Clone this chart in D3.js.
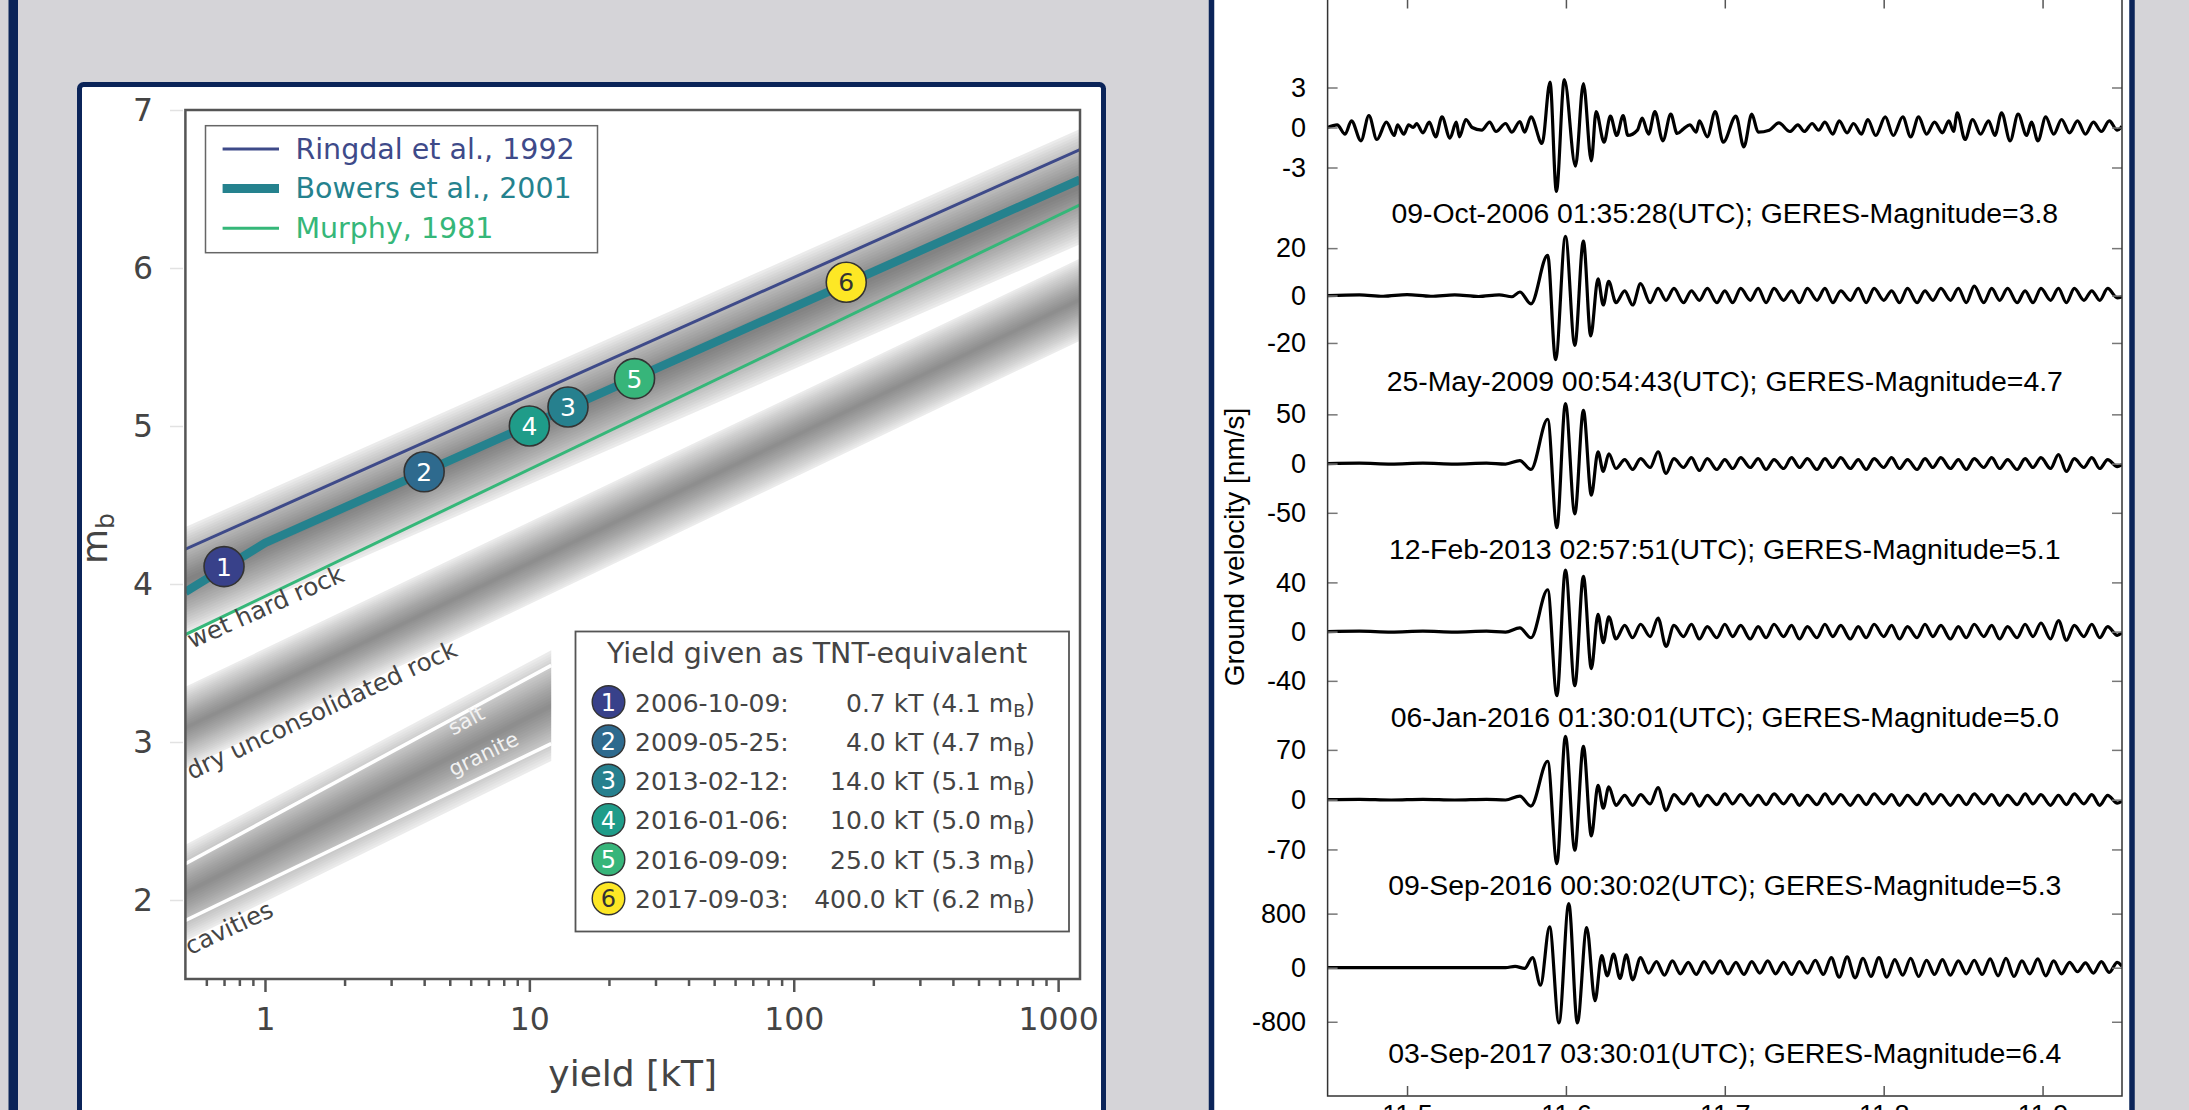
<!DOCTYPE html>
<html>
<head>
<meta charset="utf-8">
<script src="https://cdn.jsdelivr.net/npm/d3@7/dist/d3.min.js"></script>
<style>
body{margin:0;background:#d5d4d8;overflow:hidden}
svg{display:block}
</style>
</head>
<body>
<div id="container"></div>
<script>
var W = 2189, H = 1110;
var navy = "#0b2459";

// ---------- left chart: mb vs yield ----------
var yieldTicks = [1, 10, 100, 1000];
var yieldMinor = [0.6,0.7,0.8,0.9,2,3,4,5,6,7,8,9,20,30,40,50,60,70,80,90,200,300,400,500,600,700,800,900];
var mbTicks = [2, 3, 4, 5, 6, 7];

var ringdal = [[0.5, 4.22], [1210, 6.75]];
var bowers = [[0.5, 3.95], [1, 4.26], [1210, 6.56]];
var murphy = [[0.5, 3.68], [1210, 6.40]];

// [yield, upper mb, lower mb]
var bandWet = [[0.5, 4.36, 3.68], [1210, 6.88, 6.15]];
var bandDry = [[0.5, 3.35, 2.83], [1210, 6.06, 5.54]];
var bandCav = [[0.5, 2.35, 1.74], [12.1, 3.58, 2.88]];
var saltLine = [[0.5, 2.23], [12.1, 3.485]];
var graniteLine = [[0.5, 1.87], [12.1, 2.99]];

var eventDates = ["2006-10-09", "2009-05-25", "2013-02-12", "2016-01-06", "2016-09-09", "2017-09-03"];
var eventYield = [0.7, 4.0, 14.0, 10.0, 25.0, 400.0];
var eventMb = [4.1, 4.7, 5.1, 5.0, 5.3, 6.2];
var markerYield = [0.7, 4.0, 14.0, 10.0, 25.0, 158];
var markerMb = [4.11, 4.71, 5.12, 5.0, 5.3, 5.91];
var eventColors = ["#38418a", "#2e6a8e", "#26808e", "#1f9c89", "#37b57a", "#fde725"];

var modelNames = ["Ringdal et al., 1992", "Bowers et al., 2001", "Murphy, 1981"];
var modelColors = ["#3e4a89", "#25828e", "#35b779"];

// ---------- right chart: seismograms ----------
var timeTicks = [11.5, 11.6, 11.7, 11.8, 11.9];
var traceTicks = [3, 20, 50, 40, 70, 800];
var traceLabels = [
  "09-Oct-2006 01:35:28(UTC); GERES-Magnitude=3.8",
  "25-May-2009 00:54:43(UTC); GERES-Magnitude=4.7",
  "12-Feb-2013 02:57:51(UTC); GERES-Magnitude=5.1",
  "06-Jan-2016 01:30:01(UTC); GERES-Magnitude=5.0",
  "09-Sep-2016 00:30:02(UTC); GERES-Magnitude=5.3",
  "03-Sep-2017 03:30:01(UTC); GERES-Magnitude=6.4"
];

var trace2006 = [[11.450,0],[11.456,0.2],[11.461,-0.5],[11.465,0.5],[11.471,-1.0],[11.476,0.9],[11.481,-0.9],[11.487,0.4],[11.492,-0.6],[11.494,0.2],[11.498,-0.5],[11.501,0.2],[11.504,0],[11.506,0.3],[11.510,-0.4],[11.514,0.4],[11.518,-0.7],[11.522,0.8],[11.527,-0.8],[11.531,0.4],[11.533,-0.7],[11.537,0.6],[11.541,0],[11.547,-0.2],[11.552,0.4],[11.556,-0.3],[11.562,0.3],[11.566,-0.35],[11.571,0.45],[11.574,-0.35],[11.578,0.8],[11.585,-1.2],[11.590,3.4],[11.594,-4.8],[11.599,3.6],[11.606,-2.9],[11.611,3.3],[11.616,-2.5],[11.619,1.2],[11.624,-1.1],[11.628,0.85],[11.632,-0.6],[11.636,0.9],[11.639,-0.6],[11.645,-0.2],[11.648,0.7],[11.652,-0.5],[11.656,1.2],[11.661,-1.0],[11.666,1.0],[11.670,-0.45],[11.674,-0.1],[11.678,0.2],[11.682,-0.35],[11.684,0.5],[11.689,-0.7],[11.694,1.2],[11.699,-1.1],[11.707,0.85],[11.712,-1.45],[11.717,1.0],[11.721,-0.35],[11.728,-0.2],[11.734,0.35],[11.741,-0.3],[11.746,0.2],[11.750,-0.3],[11.755,0.3],[11.759,-0.2],[11.763,0.4],[11.768,-0.5],[11.772,0.5],[11.777,-0.4],[11.781,0.3],[11.786,-0.5],[11.790,0.6],[11.795,-0.6],[11.801,0.8],[11.806,-0.6],[11.812,0.8],[11.817,-0.7],[11.822,0.8],[11.827,-0.5],[11.832,0.4],[11.837,-0.4],[11.841,0.5],[11.844,-0.3],[11.8463,1.1],[11.8512,-0.9],[11.856,0.6],[11.861,-0.5],[11.866,0.5],[11.870,-0.6],[11.8742,1.1],[11.8796,-1.0],[11.8846,1.0],[11.890,-0.6],[11.893,0.4],[11.8971,-1.0],[11.902,0.8],[11.907,-0.5],[11.912,0.6],[11.917,-0.4],[11.922,0.5],[11.927,-0.5],[11.932,0.4],[11.937,-0.3],[11.942,0.5],[11.947,-0.2],[11.950,0.1]];

var trace2009 = [[11.450,0],[11.470,0.3],[11.485,-0.3],[11.500,0.4],[11.515,-0.3],[11.530,0.3],[11.545,-0.4],[11.558,0.3],[11.566,-0.5],[11.571,1.5],[11.578,-3.5],[11.5885,17],[11.5935,-27],[11.5997,25],[11.6056,-21],[11.611,23],[11.6156,-17],[11.6202,7],[11.6235,-4],[11.6269,6],[11.6315,-3],[11.637,2],[11.642,-4],[11.647,5],[11.653,-3],[11.658,3],[11.663,-2],[11.668,3],[11.674,-3],[11.679,2],[11.684,-2],[11.689,3],[11.695,-3],[11.700,2],[11.705,-3],[11.710,3],[11.716,-2],[11.721,3],[11.726,-3],[11.731,3],[11.737,-2],[11.742,2],[11.747,-3],[11.752,3],[11.758,-2],[11.763,3],[11.768,-3],[11.773,2],[11.779,-2],[11.784,3],[11.789,-3],[11.794,3],[11.800,-2],[11.805,2],[11.810,-3],[11.815,3],[11.821,-3],[11.826,2],[11.831,-2],[11.836,3],[11.842,-2],[11.847,3],[11.852,-3],[11.857,4],[11.863,-3],[11.868,3],[11.873,-2],[11.878,3],[11.884,-3],[11.889,2],[11.894,-3],[11.899,3],[11.905,-2],[11.910,3],[11.915,-3],[11.920,3],[11.926,-2],[11.931,2],[11.936,-2],[11.941,3],[11.947,-1],[11.950,-0.5]];

var trace2013 = [[11.450,0],[11.470,0.5],[11.490,-0.5],[11.510,0.5],[11.530,-0.5],[11.550,0.5],[11.562,-0.5],[11.571,3],[11.578,-6],[11.5885,45],[11.5943,-65],[11.5997,61],[11.6056,-51],[11.611,54],[11.616,-32],[11.6202,12],[11.6235,-8],[11.627,10],[11.6315,-5],[11.637,4],[11.642,-6],[11.647,5],[11.653,-4],[11.658,12],[11.663,-10],[11.668,5],[11.674,-4],[11.679,6],[11.684,-7],[11.689,5],[11.695,-6],[11.700,4],[11.705,-5],[11.710,6],[11.716,-4],[11.721,5],[11.726,-6],[11.731,4],[11.737,-5],[11.742,6],[11.747,-4],[11.752,5],[11.758,-6],[11.763,5],[11.768,-4],[11.773,6],[11.779,-5],[11.784,4],[11.789,-6],[11.794,5],[11.800,-4],[11.805,6],[11.810,-5],[11.815,4],[11.821,-6],[11.826,5],[11.831,-4],[11.836,6],[11.842,-5],[11.847,4],[11.852,-6],[11.857,5],[11.863,-4],[11.868,6],[11.873,-5],[11.878,4],[11.884,-6],[11.889,5],[11.894,-4],[11.899,6],[11.905,-5],[11.910,9],[11.915,-8],[11.920,5],[11.926,-4],[11.931,6],[11.936,-5],[11.941,4],[11.947,-3],[11.950,-1]];

var trace2016a = [[11.450,0],[11.470,0.4],[11.490,-0.4],[11.510,0.4],[11.530,-0.4],[11.550,0.4],[11.562,-0.4],[11.571,3],[11.578,-5],[11.5885,34],[11.5943,-52],[11.5997,50],[11.6056,-44],[11.611,45],[11.616,-30],[11.6202,14],[11.6235,-9],[11.627,12],[11.6315,-6],[11.637,5],[11.642,-5],[11.647,6],[11.653,-4],[11.658,11],[11.663,-12],[11.668,5],[11.674,-4],[11.679,6],[11.684,-6],[11.689,4],[11.695,-5],[11.700,6],[11.705,-4],[11.710,5],[11.716,-6],[11.721,4],[11.726,-5],[11.731,6],[11.737,-4],[11.742,5],[11.747,-6],[11.752,4],[11.758,-5],[11.763,6],[11.768,-4],[11.773,5],[11.779,-6],[11.784,4],[11.789,-5],[11.794,6],[11.800,-4],[11.805,5],[11.810,-6],[11.815,4],[11.821,-5],[11.826,6],[11.831,-4],[11.836,5],[11.842,-6],[11.847,4],[11.852,-5],[11.857,6],[11.863,-4],[11.868,5],[11.873,-6],[11.878,4],[11.884,-5],[11.889,6],[11.894,-4],[11.899,7],[11.905,-6],[11.910,9],[11.915,-7],[11.920,5],[11.926,-4],[11.931,6],[11.936,-5],[11.941,4],[11.947,-3],[11.950,-1]];

var trace2016b = [[11.450,0],[11.470,0.5],[11.490,-0.5],[11.510,0.5],[11.530,-0.5],[11.550,0.5],[11.562,-0.5],[11.571,5],[11.578,-9],[11.5885,54],[11.5943,-90],[11.5997,89],[11.6056,-71],[11.611,75],[11.616,-51],[11.6202,20],[11.6235,-12],[11.627,18],[11.6315,-8],[11.637,6],[11.642,-8],[11.647,7],[11.653,-6],[11.658,17],[11.663,-15],[11.668,7],[11.674,-6],[11.679,8],[11.684,-9],[11.689,6],[11.695,-7],[11.700,8],[11.705,-6],[11.710,7],[11.716,-8],[11.721,6],[11.726,-7],[11.731,8],[11.737,-6],[11.742,7],[11.747,-8],[11.752,6],[11.758,-7],[11.763,8],[11.768,-6],[11.773,7],[11.779,-8],[11.784,6],[11.789,-7],[11.794,8],[11.800,-6],[11.805,7],[11.810,-8],[11.815,6],[11.821,-7],[11.826,8],[11.831,-6],[11.836,7],[11.842,-8],[11.847,6],[11.852,-7],[11.857,8],[11.863,-6],[11.868,7],[11.873,-8],[11.878,6],[11.884,-7],[11.889,8],[11.894,-6],[11.899,7],[11.905,-8],[11.910,6],[11.915,-7],[11.920,8],[11.926,-6],[11.931,7],[11.936,-8],[11.941,6],[11.947,-5],[11.950,-2]];

var trace2017 = [[11.450,0],[11.500,0],[11.540,0],[11.562,0],[11.568,20],[11.574,-10],[11.579,150],[11.584,-260],[11.5897,603],[11.5956,-817],[11.6018,947],[11.6072,-817],[11.6131,594],[11.6183,-489],[11.6225,180],[11.626,-120],[11.630,200],[11.634,-160],[11.638,190],[11.642,-180],[11.647,150],[11.652,-80],[11.657,90],[11.662,-110],[11.667,100],[11.672,-90],[11.677,80],[11.682,-100],[11.687,90],[11.692,-80],[11.697,100],[11.702,-90],[11.707,80],[11.712,-100],[11.717,90],[11.722,-80],[11.727,100],[11.732,-90],[11.737,80],[11.742,-100],[11.747,90],[11.752,-80],[11.757,110],[11.762,-100],[11.767,150],[11.772,-140],[11.777,160],[11.782,-150],[11.787,140],[11.792,-130],[11.797,150],[11.802,-140],[11.807,120],[11.812,-110],[11.817,140],[11.822,-130],[11.827,110],[11.832,-100],[11.837,120],[11.842,-110],[11.847,100],[11.852,-90],[11.857,110],[11.862,-100],[11.867,130],[11.872,-120],[11.877,140],[11.882,-130],[11.887,100],[11.892,-90],[11.897,130],[11.902,-120],[11.907,100],[11.912,-90],[11.917,80],[11.922,-60],[11.927,70],[11.932,-80],[11.937,90],[11.942,-70],[11.947,80],[11.950,20]];

var traces = [trace2006, trace2009, trace2013, trace2016a, trace2016b, trace2017];

// ===========================================================
var svg = d3.select("#container").append("svg")
  .attr("width", W).attr("height", H);

svg.append("rect").attr("width", W).attr("height", H).attr("fill", "#d5d4d8");
svg.append("rect").attr("x", 8.5).attr("y", -5).attr("width", 9.5).attr("height", H + 10).attr("fill", navy);

// panels
svg.append("rect").attr("x", 79.5).attr("y", 84.5).attr("width", 1024).attr("height", 1100)
  .attr("rx", 4).attr("fill", "#fff").attr("stroke", navy).attr("stroke-width", 5);
svg.append("rect").attr("x", 1211.5).attr("y", -20).attr("width", 920.5).attr("height", 1160)
  .attr("fill", "#fff").attr("stroke", navy).attr("stroke-width", 5.5);

// ---------------- left chart ----------------
var x = d3.scaleLog().domain([0.5, 1210]).range([185.4, 1080]);
var y = d3.scaleLinear().domain([1.5, 7]).range([979, 110]);
var sans = "DejaVu Sans, sans-serif";
var txtGrey = "#444";

var defs = svg.append("defs");
defs.append("clipPath").attr("id", "plotClip").append("rect")
  .attr("x", x(0.5)).attr("y", y(7)).attr("width", x(1210) - x(0.5)).attr("height", y(1.5) - y(7));

var left = svg.append("g");
var plot = left.append("g").attr("clip-path", "url(#plotClip)");

// fuzzy grey bands, built as nested layers
function drawBand(band, n, edgeOp, layerOp){
  var g = plot.append("g");
  for (var k = 0; k < n; k++) {
    var f = k / (2 * n);
    var pts = [];
    band.forEach(function(d){ pts.push([x(d[0]), y(d[1] - (d[1] - d[2]) * f)]); });
    band.slice().reverse().forEach(function(d){ pts.push([x(d[0]), y(d[2] + (d[1] - d[2]) * f)]); });
    g.append("path").attr("d", d3.line()(pts) + "Z")
      .attr("fill", "#000").attr("fill-opacity", k == 0 ? edgeOp : layerOp);
  }
}
drawBand(bandWet, 20, 0.08, 0.027);
drawBand(bandDry, 20, 0.08, 0.025);
drawBand(bandCav, 20, 0.08, 0.025);

var line = d3.line().x(function(d){ return x(d[0]); }).y(function(d){ return y(d[1]); });
plot.append("path").attr("d", line(saltLine)).attr("stroke", "#fff").attr("stroke-width", 3.5).attr("fill", "none");
plot.append("path").attr("d", line(graniteLine)).attr("stroke", "#fff").attr("stroke-width", 3.5).attr("fill", "none");

plot.append("path").attr("d", line(ringdal)).attr("stroke", modelColors[0]).attr("stroke-width", 3).attr("fill", "none");
plot.append("path").attr("d", line(murphy)).attr("stroke", modelColors[2]).attr("stroke-width", 3).attr("fill", "none");
plot.append("path").attr("d", line(bowers)).attr("stroke", modelColors[1]).attr("stroke-width", 8.5).attr("fill", "none");

// band labels
function bandLabel(txt, yv, mv, ang, size, col){
  left.append("text").attr("transform", "translate(" + x(yv) + "," + y(mv) + ") rotate(" + ang + ")")
    .attr("font-family", sans).attr("font-size", size).attr("fill", col).text(txt);
}
bandLabel("wet hard rock", 0.53, 3.59, -24, 24.5, txtGrey);
bandLabel("dry unconsolidated rock", 0.527, 2.76, -25, 24.5, txtGrey);
bandLabel("cavities", 0.52, 1.65, -25, 24.5, txtGrey);
bandLabel("salt", 5.14, 3.04, -28, 21, "#f2f2f2");
bandLabel("granite", 5.14, 2.78, -26, 21, "#f2f2f2");

// event markers
var mk = left.append("g");
markerYield.forEach(function(v, i){
  mk.append("circle").attr("cx", x(v)).attr("cy", y(markerMb[i])).attr("r", 20)
    .attr("fill", eventColors[i]).attr("stroke", "#333").attr("stroke-width", 1.6);
  mk.append("text").attr("x", x(v)).attr("y", y(markerMb[i])).attr("dy", "0.36em")
    .attr("text-anchor", "middle").attr("font-family", sans).attr("font-size", 25)
    .attr("fill", i == 5 ? "#333" : "#fff").text(i + 1);
});

// frame
left.append("rect").attr("x", x(0.5)).attr("y", y(7)).attr("width", x(1210) - x(0.5)).attr("height", y(1.5) - y(7))
  .attr("fill", "none").attr("stroke", "#555").attr("stroke-width", 2.5);

// x axis
var xa = left.append("g").attr("transform", "translate(0," + y(1.5) + ")")
  .call(d3.axisBottom(x).tickValues(yieldTicks).tickSize(13).tickPadding(16).tickFormat(d3.format("d")));
var xm = left.append("g").attr("transform", "translate(0," + y(1.5) + ")")
  .call(d3.axisBottom(x).tickValues(yieldMinor).tickSize(7).tickFormat(""));
[xa, xm].forEach(function(g){
  g.select(".domain").remove();
  g.selectAll("line").attr("stroke", "#555").attr("stroke-width", 2.5);
});
xa.selectAll("text").attr("font-family", sans).attr("font-size", 31.5).attr("fill", txtGrey);

// y axis
var ya = left.append("g").attr("transform", "translate(183,0)")
  .call(d3.axisLeft(y).tickValues(mbTicks).tickSize(13).tickPadding(17).tickFormat(d3.format("d")));
ya.select(".domain").remove();
ya.selectAll("line").attr("stroke", "#e2e2e2").attr("stroke-width", 1.5);
ya.selectAll("text").attr("font-family", sans).attr("font-size", 31.5).attr("fill", txtGrey);

left.append("text").attr("x", (x(0.5) + x(1210)) / 2).attr("y", 1086).attr("text-anchor", "middle")
  .attr("font-family", sans).attr("font-size", 36).attr("fill", txtGrey).text("yield [kT]");
var ylab = left.append("text").attr("transform", "translate(107," + ((y(1.5) + y(7)) / 2 - 6) + ") rotate(-90)")
  .attr("text-anchor", "middle").attr("font-family", sans).attr("font-size", 36).attr("fill", txtGrey);
ylab.append("tspan").text("m");
ylab.append("tspan").attr("font-size", 25).attr("dy", 7).text("b");

// legend 1 (models)
var lg = left.append("g");
lg.append("rect").attr("x", 205.5).attr("y", 125.7).attr("width", 392).attr("height", 127)
  .attr("fill", "#fff").attr("stroke", "#666").attr("stroke-width", 1.5);
var lw = [3, 9, 3];
modelNames.forEach(function(n, i){
  var yy = 149 + i * 39.6;
  lg.append("line").attr("x1", 222.6).attr("x2", 279).attr("y1", yy).attr("y2", yy)
    .attr("stroke", modelColors[i]).attr("stroke-width", lw[i]);
  lg.append("text").attr("x", 295.4).attr("y", yy + 9.8).attr("font-family", sans).attr("font-size", 28.5)
    .attr("fill", modelColors[i]).text(n);
});

// legend 2 (events)
var lg2 = left.append("g");
lg2.append("rect").attr("x", 575.5).attr("y", 631.5).attr("width", 493.5).attr("height", 300)
  .attr("fill", "#fff").attr("stroke", "#555").attr("stroke-width", 1.8);
lg2.append("text").attr("x", 817).attr("y", 662.5).attr("text-anchor", "middle")
  .attr("font-family", sans).attr("font-size", 28.5).attr("fill", txtGrey).text("Yield given as TNT-equivalent");
eventDates.forEach(function(d, i){
  var yy = 702 + i * 39.3;
  lg2.append("circle").attr("cx", 608.5).attr("cy", yy).attr("r", 16.3)
    .attr("fill", eventColors[i]).attr("stroke", "#333").attr("stroke-width", 1.4);
  lg2.append("text").attr("x", 608.5).attr("y", yy).attr("dy", "0.36em").attr("text-anchor", "middle")
    .attr("font-family", sans).attr("font-size", 24).attr("fill", i == 5 ? "#333" : "#fff").text(i + 1);
  lg2.append("text").attr("x", 635).attr("y", yy + 9.5).attr("font-family", sans).attr("font-size", 25)
    .attr("fill", txtGrey).text(d + ":");
  var vt = lg2.append("text").attr("x", 1035).attr("y", yy + 9.5).attr("text-anchor", "end")
    .attr("font-family", sans).attr("font-size", 25).attr("fill", txtGrey);
  vt.append("tspan").text(eventYield[i].toFixed(1) + " kT (" + eventMb[i].toFixed(1) + " m");
  vt.append("tspan").attr("font-size", 17.5).attr("dy", 5).text("B");
  vt.append("tspan").attr("dy", -5).text(")");
});

// ---------------- right chart ----------------
var helv = "Liberation Sans, Arial, Helvetica, sans-serif";
var t = d3.scaleLinear().domain([11.45, 11.95]).range([1327.6, 2122]);
var slot = d3.scaleLinear().domain([0, 5]).range([127.5, 967.7]);
var right = svg.append("g");
defs.append("clipPath").attr("id", "seisClip").append("rect")
  .attr("x", t(11.45)).attr("y", -10).attr("width", t(11.95) - t(11.45)).attr("height", 1106);

var seis = right.append("g").attr("clip-path", "url(#seisClip)");

traces.forEach(function(tr, i){
  var zero = slot(i);
  var maxAbs = d3.max(tr, function(d){ return Math.abs(d[1]); });
  var a = d3.scaleLinear().domain([-maxAbs, maxAbs]).range([zero + 64, zero - 64]);
  var tv = traceTicks[i];
  var ax = right.append("g").attr("transform", "translate(" + t(11.45) + ",0)")
    .call(d3.axisLeft(a).tickValues([-tv, 0, tv]).tickSize(-10).tickPadding(21.5)
      .tickFormat(function(d){ return String(d); }));
  ax.select(".domain").remove();
  ax.selectAll("line").attr("stroke", "#777").attr("stroke-width", 1.5);
  ax.selectAll("text").attr("font-family", helv).attr("font-size", 27).attr("fill", "#000");
  var axr = right.append("g").attr("transform", "translate(" + t(11.95) + ",0)")
    .call(d3.axisRight(a).tickValues([-tv, 0, tv]).tickSize(-10).tickFormat(""));
  axr.select(".domain").remove();
  axr.selectAll("line").attr("stroke", "#777").attr("stroke-width", 1.5);

  seis.append("path").datum(tr)
    .attr("d", d3.line().x(function(d){ return t(d[0]); }).y(function(d){ return a(d[1]); }).curve(d3.curveMonotoneX))
    .attr("fill", "none").attr("stroke", "#000").attr("stroke-width", 3.2).attr("stroke-linejoin", "round");

  right.append("text").attr("x", (t(11.45) + t(11.95)) / 2).attr("y", zero + 95.2).attr("text-anchor", "middle")
    .attr("font-family", helv).attr("font-size", 28.4).attr("fill", "#000").text(traceLabels[i]);
});

// frame and time axis
right.append("rect").attr("x", t(11.45)).attr("y", -1.5).attr("width", t(11.95) - t(11.45)).attr("height", 1097.5)
  .attr("fill", "none").attr("stroke", "#333").attr("stroke-width", 1.5);
var tb = right.append("g").attr("transform", "translate(0,1096)")
  .call(d3.axisBottom(t).tickValues(timeTicks).tickSize(-10).tickPadding(9).tickFormat(d3.format(".1f")));
var tt = right.append("g").attr("transform", "translate(0,-1.5)")
  .call(d3.axisTop(t).tickValues(timeTicks).tickSize(-10).tickFormat(""));
[tb, tt].forEach(function(g){
  g.select(".domain").remove();
  g.selectAll("line").attr("stroke", "#555").attr("stroke-width", 1.5);
});
tb.selectAll("text").attr("font-family", helv).attr("font-size", 27).attr("fill", "#000");

right.append("text").attr("transform", "translate(1244,547) rotate(-90)").attr("text-anchor", "middle")
  .attr("font-family", helv).attr("font-size", 28).attr("fill", "#000").text("Ground velocity [nm/s]");
</script>
</body>
</html>
